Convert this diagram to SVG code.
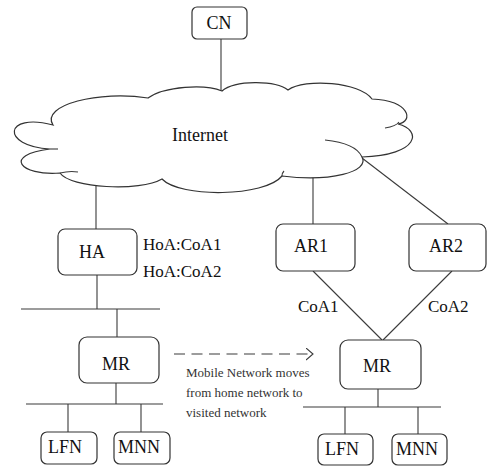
<svg xmlns="http://www.w3.org/2000/svg" width="487" height="466" viewBox="0 0 487 466">
<defs>
<style>
.box{fill:#fff;stroke:#333;stroke-width:1.2}
.ln{fill:none;stroke:#3a3a3a;stroke-width:1.1}
.lbl{font-family:"Liberation Serif","Times New Roman",serif;font-size:18px;fill:#111;text-anchor:middle}
.side{font-family:"Liberation Serif","Times New Roman",serif;font-size:17px;fill:#111}
.note{font-family:"Liberation Serif","Times New Roman",serif;font-size:13px;fill:#333}
</style>
<marker id="open" markerWidth="10" markerHeight="14" refX="7" refY="6" orient="auto" markerUnits="userSpaceOnUse">
<path d="M0,0 L7,6 L0,12" fill="none" stroke="#3a3a3a" stroke-width="1.1"/>
</marker>
</defs>
<rect width="487" height="466" fill="#fff"/>

<g id="connectors">
<line class="ln" x1="221" y1="39" x2="221" y2="91"/>
<line class="ln" x1="96" y1="184" x2="96" y2="229"/>
<line class="ln" x1="313" y1="177" x2="313" y2="224"/>
<line class="ln" x1="362" y1="158" x2="448" y2="224"/>
<line class="ln" x1="97" y1="275" x2="97" y2="309"/>
<line class="ln" x1="21" y1="309" x2="160" y2="309"/>
<line class="ln" x1="117" y1="309" x2="117" y2="337"/>
<line class="ln" x1="313" y1="271" x2="382" y2="340"/>
<line class="ln" x1="452" y1="271" x2="383" y2="340"/>
<line class="ln" x1="116" y1="383" x2="116" y2="404"/>
<line class="ln" x1="26" y1="404" x2="163" y2="404"/>
<line class="ln" x1="68" y1="404" x2="68" y2="432"/>
<line class="ln" x1="141" y1="404" x2="141" y2="432"/>
<line class="ln" x1="378" y1="389" x2="378" y2="407"/>
<line class="ln" x1="303" y1="407" x2="441" y2="407"/>
<line class="ln" x1="345" y1="407" x2="345" y2="434"/>
<line class="ln" x1="418" y1="407" x2="418" y2="434"/>
<line class="ln" x1="174" y1="354" x2="313" y2="354" stroke-dasharray="11 6.5" marker-end="url(#open)"/>
</g>

<g id="internet">
<path class="box" d="M53,125 C40,105 100,90 148,98 C165,86 205,84 222,91 C235,80 275,80 288,90 C305,78 360,82 372,99 C410,100 414,122 398,124 C422,130 420,155 362,157 C370,172 330,182 282,176 C265,197 180,198 162,179 C140,192 70,188 60,173 C20,176 2,155 50,149 C0,146 4,112 53,125 Z"/>
<path class="ln" d="M325,140 C345,142 358,148 362,157"/>
<path class="ln" d="M385,128 C392,127 397,125 399,122"/>
<path class="ln" d="M282,176 C282,174 283,172 284,171"/>
<path class="ln" d="M60,173 C64,172 72,171 78,172"/>
<path class="ln" d="M50,149 C52,149 55,149 58,149"/>
<text class="lbl" x="200" y="141">Internet</text>
</g>

<g id="CN">
<rect class="box" x="192" y="7" width="55" height="32" rx="5"/>
<text class="lbl" x="219" y="29">CN</text>
</g>

<g id="HA">
<rect class="box" x="58" y="229" width="79" height="46" rx="7"/>
<text class="lbl" x="92" y="258">HA</text>
<text class="side" x="143" y="250">HoA:CoA1</text>
<text class="side" x="143" y="277">HoA:CoA2</text>
</g>

<g id="AR1">
<rect class="box" x="276" y="224" width="79" height="47" rx="7"/>
<text class="lbl" x="311" y="252">AR1</text>
<text class="side" x="298" y="312">CoA1</text>
</g>

<g id="AR2">
<rect class="box" x="409" y="224" width="77" height="47" rx="7"/>
<text class="lbl" x="446" y="252">AR2</text>
<text class="side" x="428" y="312">CoA2</text>
</g>

<g id="MR-home">
<rect class="box" x="79" y="337" width="80" height="46" rx="8"/>
<text class="lbl" x="116" y="370">MR</text>
</g>

<g id="LFN-home">
<rect class="box" x="41" y="432" width="56" height="32" rx="6"/>
<text class="lbl" x="65" y="453">LFN</text>
</g>

<g id="MNN-home">
<rect class="box" x="114" y="432" width="56" height="32" rx="6"/>
<text class="lbl" x="139" y="453">MNN</text>
</g>

<g id="move-note">
<text class="note" x="186" y="377">Mobile Network moves</text>
<text class="note" x="186" y="397">from home network to</text>
<text class="note" x="186" y="417">visited network</text>
</g>

<g id="MR-visited">
<rect class="box" x="340" y="340" width="81" height="49" rx="8"/>
<text class="lbl" x="377" y="372">MR</text>
</g>

<g id="LFN-visited">
<rect class="box" x="318" y="434" width="55" height="31" rx="6"/>
<text class="lbl" x="342" y="455">LFN</text>
</g>

<g id="MNN-visited">
<rect class="box" x="392" y="434" width="55" height="31" rx="6"/>
<text class="lbl" x="417" y="455">MNN</text>
</g>
</svg>
